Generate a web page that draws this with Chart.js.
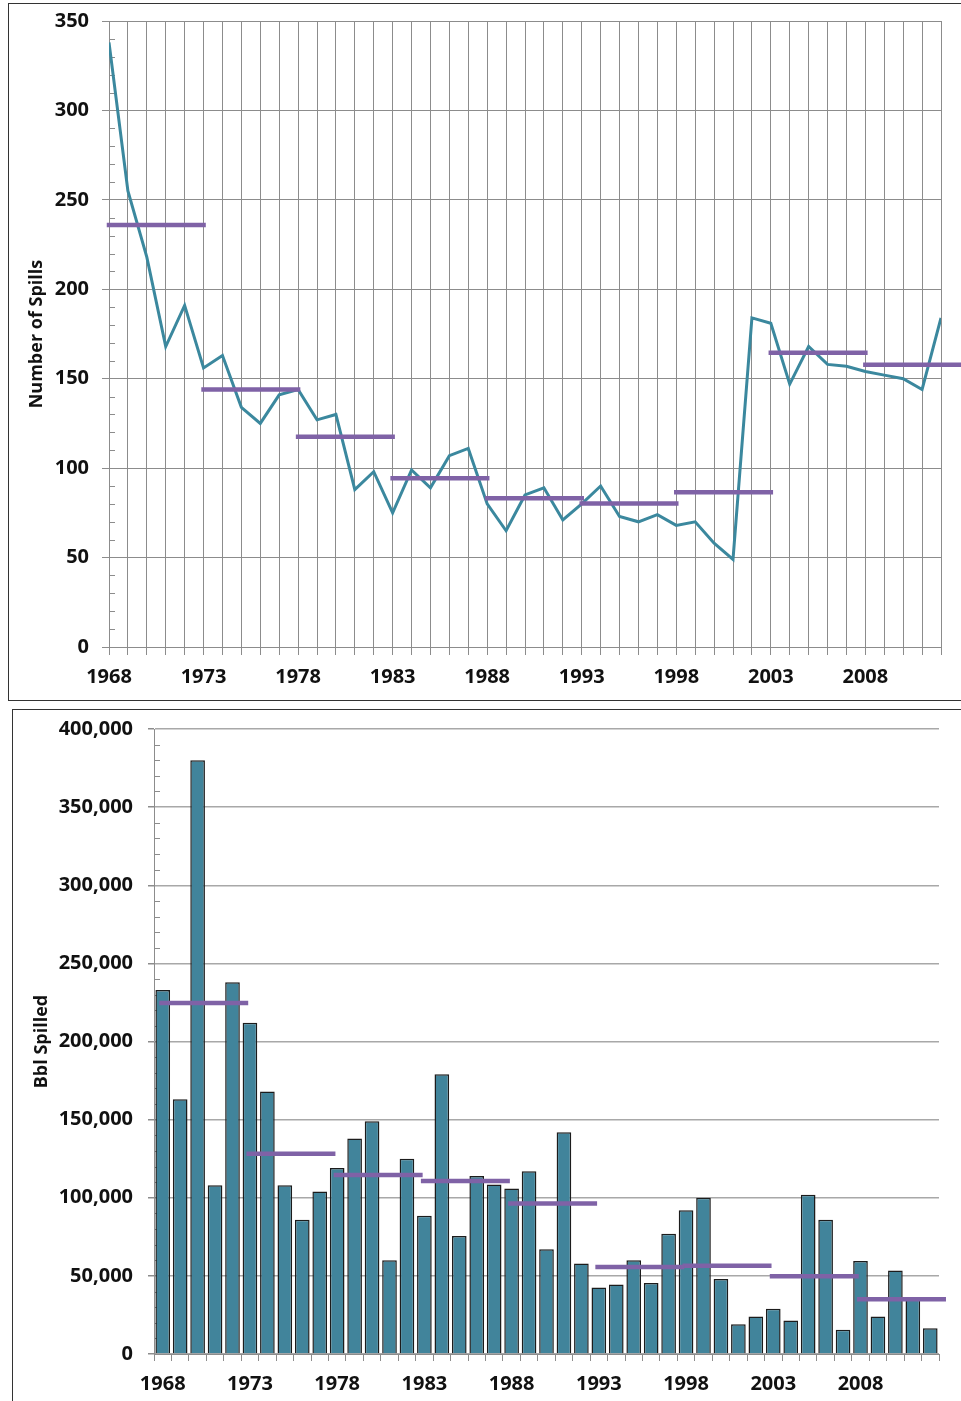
<!DOCTYPE html>
<html>
<head>
<meta charset="utf-8">
<script src="https://cdn.jsdelivr.net/npm/chart.js@4.4.1/dist/chart.umd.min.js"></script>
<style>
  html, body { margin: 0; padding: 0; background: #fff; overflow: hidden; }
  body { width: 961px; height: 1401px; position: relative; }
  .frame { position: absolute; border: 1.5px solid #333; box-sizing: border-box; }
  #frameTop { left: 8px; top: 3px; width: 990px; height: 698px; }
  #frameBottom { left: 12px; top: 709px; width: 990px; height: 720px; }
  .box { position: absolute; left: 0; width: 961px; }
  #boxTop { top: 0; height: 700px; }
  #boxBottom { top: 700px; height: 701px; }
</style>
</head>
<body>
<div class="frame" id="frameTop"></div>
<div class="frame" id="frameBottom"></div>
<div class="box" id="boxTop"><canvas id="spillsChart"></canvas></div>
<div class="box" id="boxBottom"><canvas id="bblChart"></canvas></div>
<script>
// years 1968 - 2012
const years = [1968, 1969, 1970, 1971, 1972, 1973, 1974, 1975, 1976, 1977,
  1978, 1979, 1980, 1981, 1982, 1983, 1984, 1985, 1986, 1987,
  1988, 1989, 1990, 1991, 1992, 1993, 1994, 1995, 1996, 1997,
  1998, 1999, 2000, 2001, 2002, 2003, 2004, 2005, 2006, 2007,
  2008, 2009, 2010, 2011, 2012];

// number of spills per year
const spills = [338, 255, 218, 168, 191, 156, 163, 134, 125, 141,
  144, 127, 130, 88, 98, 75, 99, 89, 107, 111,
  80, 65, 85, 89, 71, 80, 90, 73, 70, 74,
  68, 70, 58, 49, 184, 181, 147, 168, 158, 157,
  154, 152, 150, 144, 184];

// barrels spilled per year
const bbl = [233000, 163000, 380000, 108000, 238000, 212000, 168000, 108000, 86000, 104000,
  119000, 138000, 149000, 60000, 125000, 88500, 179000, 75500, 114000, 108500,
  106000, 117000, 67000, 142000, 58000, 42500, 44500, 60000, 45500, 77000,
  92000, 100000, 48000, 19000, 24000, 29000, 21500, 102000, 86000, 15500,
  59500, 24000, 53500, 35000, 16500];

// five-year averages (purple bars)
const periodStart = [1968, 1973, 1978, 1983, 1988, 1993, 1998, 2003, 2008];
const spillAvg = [236, 144, 117.5, 94.3, 83.1, 80.3, 86.5, 164.5, 157.8];
const bblAvg = [224600, 128100, 114600, 110800, 96300, 55700, 56500, 49700, 35000];

// axis labels
const yearTicks = [1968, 1973, 1978, 1983, 1988, 1993, 1998, 2003, 2008];
const spillTicks = [0, 50, 100, 150, 200, 250, 300, 350];
const bblTicks = [0, 50000, 100000, 150000, 200000, 250000, 300000, 350000, 400000];

const TEAL = '#3b889e';
const BAR = '#41849b';
const PURPLE = '#7f62a6';
const GRID = '#8c8c8c';
const FONT = '"Open Sans", Lato, sans-serif';

Chart.defaults.font.family = FONT;
Chart.defaults.color = '#111';

// short inside ticks between the labelled values
const minorTicks = {
  id: 'minorTicks',
  beforeDatasetsDraw(chart, args, opts) {
    const y = chart.scales.y;
    const ctx = chart.ctx;
    ctx.save();
    ctx.strokeStyle = opts.color;
    ctx.lineWidth = 1;
    y.ticks.forEach(t => {
      if (opts.major.includes(t.value)) return;
      const py = Math.round(y.getPixelForValue(t.value)) + 0.5;
      ctx.beginPath();
      ctx.moveTo(y.right, py);
      ctx.lineTo(y.right + opts.length, py);
      ctx.stroke();
    });
    ctx.restore();
  }
};

// fixed axis width, no extra top/bottom padding from the labels
const fixWidth = w => s => {
  s.width = w;
  s.paddingTop = 10;
  s.paddingBottom = 10;
};

// ---- top: number of spills ----
const spillSets = periodStart.map((s, i) => ({
  data: [{ x: s, y: spillAvg[i] }, { x: s + 5, y: spillAvg[i] }],
  borderColor: PURPLE,
  borderWidth: 4.5,
  borderCapStyle: 'square',
  pointRadius: 0,
  clip: false,
  order: 0
}));

new Chart(document.getElementById('spillsChart'), {
  type: 'line',
  data: {
    datasets: [{
      data: years.map((yr, i) => ({ x: yr, y: spills[i] })),
      borderColor: TEAL,
      borderWidth: 3,
      pointRadius: 0,
      tension: 0,
      order: 1
    }, ...spillSets]
  },
  options: {
    responsive: true,
    maintainAspectRatio: false,
    animation: false,
    layout: { padding: { left: 26, top: 21, right: 20, bottom: 0 } },
    plugins: {
      legend: { display: false },
      tooltip: { enabled: false },
      minorTicks: { color: GRID, length: 6, major: spillTicks }
    },
    scales: {
      x: {
        type: 'linear',
        min: 1968,
        max: 2012,
        afterFit: s => { s.height = 53; },
        grid: { color: GRID, tickLength: 8, tickColor: GRID },
        border: { color: GRID },
        ticks: {
          stepSize: 1,
          autoSkip: false,
          maxRotation: 0,
          maxTicksLimit: 1000,
          padding: 10,
          font: { size: 20, weight: 'bold' },
          callback: v => yearTicks.includes(v) ? String(v) : ''
        }
      },
      y: {
        min: 0,
        max: 350,
        afterFit: fixWidth(83),
        grid: {
          color: c => spillTicks.includes(c.tick.value) ? GRID : 'rgba(0,0,0,0)',
          tickColor: c => spillTicks.includes(c.tick.value) ? GRID : 'rgba(0,0,0,0)',
          tickLength: 7
        },
        border: { color: GRID },
        title: {
          display: true,
          text: 'Number of Spills',
          padding: 0,
          font: { size: 18, weight: 'bold' }
        },
        ticks: {
          stepSize: 10,
          autoSkip: false,
          maxTicksLimit: 1000,
          padding: 13,
          font: { size: 20, weight: 'bold' },
          callback: v => spillTicks.includes(v) ? String(v) : ''
        }
      }
    }
  },
  plugins: [minorTicks]
});

// ---- bottom: barrels spilled ----
const bblSets = periodStart.map((s, i) => ({
  type: 'line',
  data: [{ x: s - 0.2, y: bblAvg[i] }, { x: s + 4.9, y: bblAvg[i] }],
  borderColor: PURPLE,
  borderWidth: 4.5,
  pointRadius: 0,
  clip: false,
  order: 0
}));

new Chart(document.getElementById('bblChart'), {
  type: 'bar',
  data: {
    datasets: [{
      data: years.map((yr, i) => ({ x: yr, y: bbl[i] })),
      backgroundColor: BAR,
      borderColor: '#1c1c1c',
      borderWidth: 1.5,
      barPercentage: 0.84,
      categoryPercentage: 1,
      order: 1
    }, ...bblSets]
  },
  options: {
    responsive: true,
    maintainAspectRatio: false,
    animation: false,
    layout: { padding: { left: 31, top: 29, right: 22, bottom: 0 } },
    plugins: {
      legend: { display: false },
      tooltip: { enabled: false },
      minorTicks: { color: GRID, length: 6, major: bblTicks }
    },
    scales: {
      x: {
        type: 'linear',
        offset: false,
        min: 1967.5,
        max: 2012.5,
        afterBuildTicks: s => { s.ticks = years.map(v => ({ value: v })); },
        afterFit: s => { s.height = 47; },
        grid: { offset: true, drawOnChartArea: false, tickLength: 7, color: GRID, tickColor: GRID },
        border: { color: GRID },
        ticks: {
          autoSkip: false,
          maxRotation: 0,
          padding: 11,
          font: { size: 20, weight: 'bold' },
          callback: v => yearTicks.includes(v) ? String(v) : ''
        }
      },
      y: {
        min: 0,
        max: 400000,
        afterFit: fixWidth(123),
        grid: {
          color: c => bblTicks.includes(c.tick.value) ? '#a8a8a8' : 'rgba(0,0,0,0)',
          tickColor: c => bblTicks.includes(c.tick.value) ? GRID : 'rgba(0,0,0,0)',
          lineWidth: 1.5,
          tickLength: 6
        },
        border: { color: GRID },
        title: {
          display: true,
          text: 'Bbl Spilled',
          padding: 0,
          font: { size: 18, weight: 'bold' }
        },
        ticks: {
          stepSize: 10000,
          autoSkip: false,
          maxTicksLimit: 1000,
          padding: 15,
          font: { size: 20, weight: 'bold' },
          callback: v => bblTicks.includes(v) ? v.toLocaleString('en-US') : ''
        }
      }
    }
  },
  plugins: [minorTicks]
});
</script>
</body>
</html>
